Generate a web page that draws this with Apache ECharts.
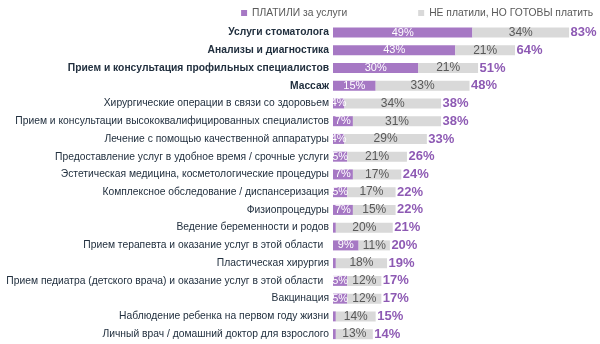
<!DOCTYPE html>
<html><head><meta charset="utf-8">
<script src="https://cdn.jsdelivr.net/npm/echarts@6/dist/echarts.min.js"></script>
<style>html,body{margin:0;padding:0;background:#fff}#c{width:600px;height:344px}</style>
</head><body><div id="c"></div>
<script>
const categories = [
  "Услуги стоматолога",
  "Анализы и диагностика",
  "Прием и консультация профильных специалистов",
  "Массаж",
  "Хирургические операции в связи со здоровьем",
  "Прием и консультации высококвалифицированных специалистов",
  "Лечение с помощью качественной аппаратуры",
  "Предоставление услуг в удобное время / срочные услуги",
  "Эстетическая медицина, косметологические процедуры",
  "Комплексное обследование / диспансеризация",
  "Физиопроцедуры",
  "Ведение беременности и родов",
  "Прием терапевта и оказание услуг в этой области  ",
  "Пластическая хирургия",
  "Прием педиатра (детского врача) и оказание услуг в этой области  ",
  "Вакцинация",
  "Наблюдение ребенка на первом году жизни",
  "Личный врач / домашний доктор для взрослого"
];
const boldCount = 4;
const paid = [49,43,30,15,4,7,4,5,7,5,7,1,9,1,5,5,1,1];
const ready = [34,21,21,33,34,31,29,21,17,17,15,20,11,18,12,12,14,13];
const totals = [83,64,51,48,38,38,33,26,24,22,22,21,20,19,17,17,15,14];
const seriesNames = ["ПЛАТИЛИ за услуги", "НЕ платили, НО ГОТОВЫ платить"];

const chart = echarts.init(document.getElementById('c'), null, {renderer:'canvas'});
const font = "'Liberation Sans', Arial, sans-serif";
chart.setOption({
  animation: false,
  textStyle: {fontFamily: font},
  legend: {
    data: seriesNames,
    right: 2, top: 3,
    icon: 'rect', itemWidth: 6, itemHeight: 6, itemGap: 71,
    textStyle: {color: '#595959', fontSize: 10.3, fontFamily: font}
  },
  grid: {left: 333, right: 11, top: 23.6, bottom: 1, containLabel: false, outerBoundsMode: 'none'},
  xAxis: {type: 'value', min: 0, max: 90, show: false},
  yAxis: {
    type: 'category', data: categories, inverse: true,
    axisLine: {show: false}, axisTick: {show: false},
    axisLabel: {
      margin: 4, fontSize: 10.3, color: '#22303f', fontFamily: font,
      formatter: (v, i) => i < boldCount ? '{b|' + v + '}' : v,
      rich: {b: {fontWeight: 'bold', fontSize: 10.3, color: '#22303f', fontFamily: font}}
    }
  },
  series: [
    {
      name: seriesNames[0], type: 'bar', stack: 's', barWidth: 10,
      data: paid, itemStyle: {color: '#a678c4'},
      label: {show: true, position: 'inside', color: '#fff', fontSize: 11, fontFamily: font,
        formatter: p => p.value > 1 ? p.value + '%' : ''}
    },
    {
      name: seriesNames[1], type: 'bar', stack: 's', barWidth: 10,
      data: ready, itemStyle: {color: '#d9d9d9'},
      label: {show: true, position: 'inside', color: '#595959', fontSize: 12, fontFamily: font,
        formatter: p => p.value + '%'}
    },
    {
      type: 'scatter', data: totals.map((t, i) => [t, i]), symbolSize: 1,
      itemStyle: {color: 'rgba(0,0,0,0)'}, silent: true,
      label: {show: true, position: 'right', distance: 1, color: '#7030a0', fontWeight: 'bold',
        fontSize: 13, fontFamily: font, formatter: p => p.value[0] + '%'}
    }
  ]
});
</script></body></html>
